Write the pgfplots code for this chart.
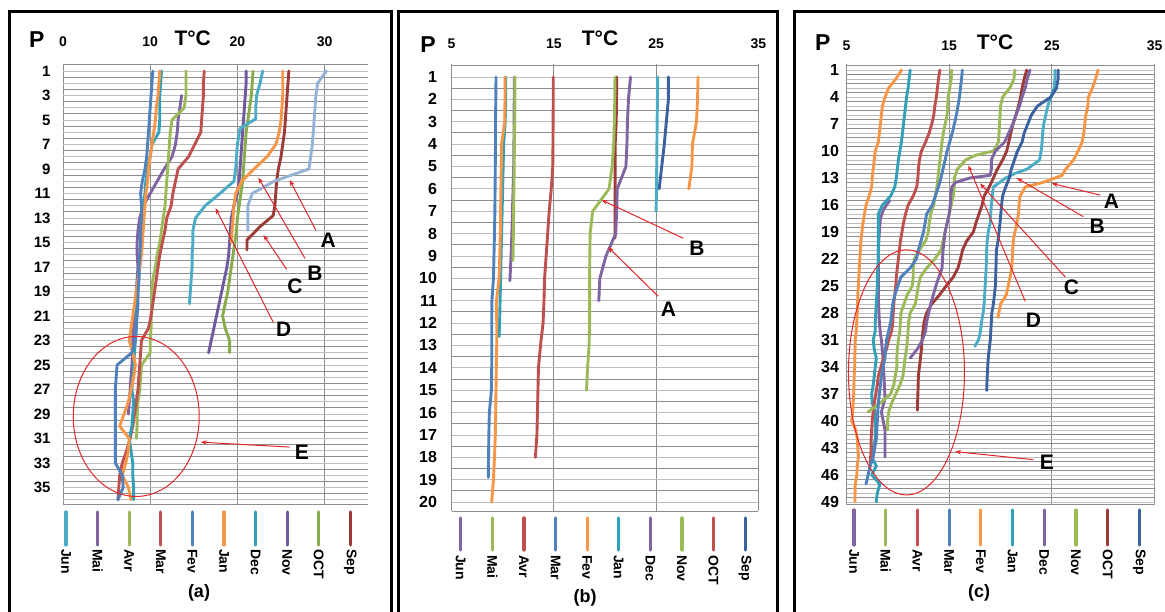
\documentclass[border=0pt]{standalone}
\usepackage{pgfplots}
\pgfplotsset{compat=1.18}
\usepackage{fontspec}
\setmainfont{Liberation Sans}
\usetikzlibrary{arrows.meta}

% series colours
\definecolor{cAqua}{HTML}{4BACC6}
\definecolor{cPurple}{HTML}{8064A2}
\definecolor{cGreen}{HTML}{9BBB59}
\definecolor{cRed}{HTML}{C0504D}
\definecolor{cBlue}{HTML}{4F81BD}
\definecolor{cOrange}{HTML}{F79646}
\definecolor{cTeal}{HTML}{31A0B8}
\definecolor{cDPurple}{HTML}{7159A0}
\definecolor{cDGreen}{HTML}{88AC4C}
\definecolor{cDRed}{HTML}{9E3B39}
\definecolor{cSteel}{HTML}{95B3D7}
\definecolor{cNavy}{HTML}{3A62A0}
\definecolor{gridA}{HTML}{8E8E8E}
\definecolor{gridB}{HTML}{BEBEBE}
\definecolor{annRed}{HTML}{E3262A}

\pgfplotsset{
  profile/.style={
    scale only axis, anchor=north west, y dir=reverse, clip=false,
    axis line style={draw=none}, tick style={draw=none},
    xticklabel pos=top,
    xmajorgrids, ymajorgrids=false, yminorgrids,
    major grid style={gridA, line width=0.9pt},
    minor grid style={gridB, line width=0.8pt},
    extra y tick style={grid=major},
    extra y tick labels={},
    /pgf/number format/assume math mode=true,
    xticklabel style={font=\bfseries\fontsize{14}{14}\selectfont, yshift=13pt},
  },
}
\tikzset{
  prof/.style={line width=2.9pt, line join=round, line cap=round},
  note/.style={annRed, line width=1pt, -{Stealth[length=6pt,width=4.5pt]}},
  lab/.style={font=\bfseries\fontsize{21}{21}\selectfont},
}

\begin{document}
\begin{tikzpicture}
\useasboundingbox (0pt,0pt) rectangle (1165pt,612pt);

% ---------------- panel (a) ----------------
\begin{axis}[profile, at={(63pt,548.35pt)}, width=305.2pt, height=441pt,
  xmin=0, xmax=35, ymin=0.4, ymax=36.4,
  xtick={0,10,20,30}, ytick={1,3,...,35}, minor ytick={1,...,36},
  extra y ticks={0.5,1.5,...,35.5,36.4},
  yticklabel style={font=\bfseries\fontsize{15}{15}\selectfont, xshift=-9pt}]
% Mai
\addplot[prof, cPurple] coordinates {(13.6,3)(13.4,4)(13.2,5)(13.1,6)(12.9,7)(12.5,8)(11.6,9)(10.8,10)(10.0,11)(9.2,12)(8.8,13)(8.6,14)(8.5,15)(8.5,16)(8.6,17)(8.5,18)(8.4,19)(8.3,20)(8.2,21)(8.1,22)(8.0,23)(8.0,24)(7.9,25)(7.8,26)(7.7,27)(7.6,28)(7.5,29)};
% Avr
\addplot[prof, cGreen] coordinates {(14.1,1)(14.1,2)(14.1,3)(13.9,4)(12.5,5)(12.3,6)(12.2,7)(12.1,8)(12.0,9)(11.9,10)(11.8,11)(11.7,12)(11.5,13)(11.3,14)(11.1,15)(10.8,16)(10.6,17)(10.3,18)(10.2,19)(10.2,20)(10.1,21)(10.1,22)(10.0,23)(10.0,24)(9.0,25)(8.9,26)(8.8,27)(8.6,28)(8.5,29)(8.5,30)(8.4,31)};
% Mar
\addplot[prof, cRed] coordinates {(16.2,1)(16.1,2)(16.1,3)(16.0,4)(15.9,5)(15.8,6)(15.1,7)(14.4,8)(13.2,9)(12.9,10)(12.6,11)(12.4,12)(11.9,13)(11.7,14)(11.4,15)(11.1,16)(10.9,17)(10.7,18)(10.5,19)(10.3,20)(10.1,21)(9.8,22)(9.0,23)(8.9,24)(8.8,25)(8.7,26)(8.6,27)(8.4,28)(8.2,29)(8.0,30)(7.7,31)(7.3,32)(6.8,33)(6.5,34)(6.4,35)(6.3,36)};
% Dec
\addplot[prof, cTeal] coordinates {(11.3,1)(11.2,2)(11.1,3)(11.1,4)(11.1,5)(11.0,6)(10.2,7)(10.0,8)(9.7,9)(9.5,10)(9.4,11)(9.2,12)(9.1,13)(9.1,14)(9.0,15)(8.9,16)(8.8,17)(8.7,18)(8.6,19)(8.5,20)(8.4,21)(8.4,22)(8.3,23)(8.2,24)(8.1,25)(8.0,26)(7.9,27)(8.1,28)(8.0,29)(7.9,30)(7.6,31)(7.8,32)(8.0,33)(8.0,34)(8.1,35)(8.1,36)};
% Jan
\addplot[prof, cOrange] coordinates {(11.1,1)(11.0,2)(10.9,3)(10.7,4)(10.6,5)(10.4,6)(10.2,7)(10.0,8)(9.8,9)(9.7,10)(9.5,11)(9.4,12)(9.3,13)(9.2,14)(9.1,15)(9.0,16)(8.8,17)(8.6,18)(8.4,19)(8.2,20)(8.0,21)(7.8,22)(7.6,23)(8.0,24)(8.3,25)(8.1,26)(7.8,27)(7.5,28)(7.0,29)(6.5,30)(7.6,31)(7.5,32)(7.2,33)(6.8,34)(7.5,35)(7.8,36)};
% Fev
\addplot[prof, cBlue] coordinates {(10.3,1)(10.2,2)(10.1,3)(10.0,4)(9.9,5)(9.8,6)(9.7,7)(9.6,8)(9.4,9)(9.1,10)(8.9,11)(9.0,12)(9.0,13)(8.9,14)(8.9,15)(8.8,16)(8.7,17)(8.7,18)(8.6,19)(8.6,20)(8.5,21)(8.4,22)(8.3,23)(7.9,24)(6.2,25)(6.1,26)(6.0,27)(6.0,28)(6.0,29)(6.0,30)(6.0,31)(6.0,32)(6.0,33)(6.8,34)(6.9,35)(6.3,36)};
% Nov
\addplot[prof, cDPurple] coordinates {(21.0,1)(21.0,2)(20.9,3)(20.8,4)(20.7,5)(20.6,6)(20.5,7)(20.4,8)(20.3,9)(20.2,10)(20.0,11)(19.6,12)(19.3,13)(19.2,14)(19.1,15)(19.0,16)(18.8,17)(18.5,18)(18.2,19)(17.9,20)(17.6,21)(17.3,22)(17.0,23)(16.7,24)};
% OCT
\addplot[prof, cDGreen] coordinates {(21.8,1)(21.7,2)(21.6,3)(21.4,4)(21.2,5)(21.0,6)(20.9,7)(20.8,8)(20.7,9)(20.6,10)(20.4,11)(20.2,12)(20.0,13)(19.9,14)(19.7,15)(19.5,16)(19.3,17)(19.1,18)(18.9,19)(18.6,20)(18.3,21)(18.6,22)(19.1,23)(19.1,24)};
% Jun
\addplot[prof, cAqua] coordinates {(22.9,1)(22.6,2)(22.2,3)(22.1,4)(22.1,4.9)(20.3,5.7)(20.0,7)(19.9,8)(19.8,9)(19.6,10)(18.0,11)(16.3,12)(15.2,13)(14.9,14)(14.9,15)(14.8,16)(14.8,17)(14.7,18)(14.6,19)(14.5,20)};
% B
\addplot[prof, cOrange] coordinates {(25.2,1)(25.2,2)(25.2,3)(25.1,4)(25.0,5)(24.8,6)(24.4,7)(23.4,8)(21.9,9)(20.5,10)(19.8,11)(19.6,12)(19.5,13)(19.4,14)(19.3,15)};
% Sep / C
\addplot[prof, cDRed] coordinates {(25.9,1)(25.8,2)(25.7,3)(25.6,4)(25.5,5)(25.4,6)(25.2,7)(25.0,8)(24.7,9)(24.5,10)(24.4,11)(24.3,12)(24.1,12.8)(22.6,13.7)(21.1,14.8)(21.1,15.6)};
% A
\addplot[prof, cSteel] coordinates {(30.2,1)(29.2,2)(29.0,3)(28.9,4)(28.8,5)(28.7,6)(28.6,7)(28.4,8)(28.2,9)(24.2,10)(21.7,11)(21.2,12)(21.2,13)(21.2,14)};
% annotations
\draw[annRed, line width=1pt] (axis cs:8.4,29.2) ellipse [x radius=63pt, y radius=80pt];
\draw[note] (axis cs:26.0,31.7) -- (axis cs:15.8,31.3);
\draw[note] (axis cs:24.1,21.5) -- (axis cs:17.5,12.2);
\draw[note] (axis cs:25.65,17.2) -- (axis cs:23.0,14.4);
\draw[note] (axis cs:27.75,16.3) -- (axis cs:22.4,9.7);
\draw[note] (axis cs:29.0,14.0) -- (axis cs:26.0,9.9);
\node[lab] at (axis cs:27.4,32.1) {E};
\node[lab] at (axis cs:25.3,22.1) {D};
\node[lab] at (axis cs:26.6,18.6) {C};
\node[lab] at (axis cs:28.9,17.5) {B};
\node[lab] at (axis cs:30.4,14.8) {A};
\end{axis}

% ---------------- panel (b) ----------------
\begin{axis}[profile, at={(451.5pt,548.4pt)}, width=306.9pt, height=447.4pt,
  xmin=5, xmax=35, ymin=0.4, ymax=20.4,
  xtick={5,15,25,35}, ytick={1,...,20}, minor ytick={1,...,20},
  extra y ticks={0.5,1.5,...,19.5,20.4},
  xticklabel style={yshift=-2pt},
  yticklabel style={font=\bfseries\fontsize{16}{16}\selectfont, xshift=-11pt}]
% Jun
\addplot[prof, cPurple] coordinates {(11.14,1)(11.13,2)(11.12,3)(11.1,4)(11.08,5)(11.02,6)(10.96,7)(10.9,8)(10.82,9)(10.72,10)(10.7,10.1)};
% Mai
\addplot[prof, cGreen] coordinates {(11.2,1)(11.2,2)(11.18,3)(11.15,4)(11.13,5)(11.1,6)(11.07,7)(11.05,8)(11.02,9)(11.0,9.2)};
% Avr
\addplot[prof, cRed] coordinates {(14.95,1)(14.95,2)(14.93,3)(14.92,4)(14.9,5)(14.75,6)(14.55,7)(14.4,8)(14.25,9)(14.1,10)(14.04,11)(13.95,12)(13.7,13)(13.5,14)(13.45,15)(13.4,16)(13.35,17)(13.2,18)};
% Jan
\addplot[prof, cTeal] coordinates {(10.3,1)(10.3,2)(10.25,3)(10.1,4)(10.05,5)(10.0,6)(9.95,7)(9.9,8)(9.85,9)(9.8,10)(9.75,11)(9.7,12)(9.65,12.6)};
% Mar
\addplot[prof, cBlue] coordinates {(9.35,1)(9.33,2)(9.3,3)(9.3,4)(9.28,5)(9.26,6)(9.24,7)(9.2,8)(9.15,9)(9.1,10)(8.95,11)(8.93,12)(8.93,13)(8.93,14)(8.9,15)(8.7,16)(8.65,17)(8.62,18)(8.6,18.9)};
% Fev
\addplot[prof, cOrange] coordinates {(10.23,1)(10.23,2)(10.2,3)(9.9,4)(9.87,5)(9.83,6)(9.8,7)(9.77,8)(9.72,9)(9.65,10)(9.4,11)(9.42,12)(9.42,13)(9.38,14)(9.35,15)(9.32,16)(9.28,17)(9.2,18)(9.1,19)(8.93,20)};
% OCT
\addplot[prof, cDRed] coordinates {(21.15,1)(21.13,2)(21.1,3)(21.0,4)(21.0,5)(21.0,6)(21.0,7)(21.0,8)(20.98,8.2)};
% Nov (B)
\addplot[prof, cGreen] coordinates {(20.98,1)(20.96,2)(20.92,3)(20.85,4)(20.7,5)(20.4,6)(18.8,7)(18.55,8)(18.52,9)(18.5,10)(18.5,11)(18.5,12)(18.45,13)(18.3,14)(18.2,15)};
% Dec (A)
\addplot[prof, cPurple] coordinates {(22.5,1)(22.3,2)(22.2,3)(22.15,4)(22.05,5)(21.2,6)(21.15,7)(21.05,8)(20.1,9)(19.5,10)(19.4,11)};
% warm months
\addplot[prof, cAqua] coordinates {(25.15,1)(25.13,2)(25.1,3)(25.08,4)(25.06,5)(25.04,6)(25.0,7)};
\addplot[prof, cNavy] coordinates {(26.2,1)(26.2,2)(26.0,3)(25.8,4)(25.55,5)(25.3,6)};
\addplot[prof, cOrange] coordinates {(29.1,1)(29.05,2)(28.95,3)(28.55,4)(28.5,5)(28.2,6)};
\draw[note] (axis cs:27.66,8.21) -- (axis cs:19.68,6.5);
\draw[note] (axis cs:25.2,10.8) -- (axis cs:20.3,8.6);
\node[lab] at (axis cs:29.0,8.66) {B};
\node[lab] at (axis cs:26.2,11.4) {A};
\end{axis}

% ---------------- panel (c) ----------------
\begin{axis}[profile, at={(846.5pt,548.3pt)}, width=308.1pt, height=441pt,
  xmin=5, xmax=35, ymin=0.3, ymax=49.3,
  xtick={5,15,25,35}, ytick={1,4,...,49}, minor ytick={1,...,49},
  extra y ticks={0.5,1.5,...,48.5,49.3},
  xticklabel style={yshift=-3pt},
  yticklabel style={font=\bfseries\fontsize{16}{16}\selectfont, xshift=-4pt}]
% Fev
\addplot[prof, cOrange] coordinates {(10.37,1)(9.8,2)(9.1,3)(8.75,4)(8.5,5)(8.4,6)(8.3,7)(8.2,8)(8.1,9)(7.8,10)(7.7,11)(7.6,12)(7.5,13)(7.45,14)(7.2,15)(6.9,16)(6.75,17)(6.6,18)(6.5,19)(6.4,20)(6.35,21)(6.3,22)(6.25,23)(6.2,24)(6.15,25)(6.1,26)(6.08,27)(6.05,28)(6.0,29)(5.95,30)(5.85,31)(5.83,32)(5.8,33)(5.8,34)(5.75,35)(5.72,36)(5.7,37)(5.65,38)(5.6,39)(5.5,40)(5.9,41)(6.05,42)(6.1,43)(6.15,44)(6.05,45)(6.0,46)(5.85,47)(5.83,48)(5.83,49)};
% Jun
\addplot[prof, cPurple] coordinates {(9.2,15.5)(8.6,16.5)(8.3,17.5)(8.2,19)(8.1,21)(8.1,24)(8.1,26.5)(8.2,29)(8.3,30.3)(8.4,31)(8.55,33)(8.65,35)(8.75,37.5)(8.4,39)(8.75,41)(8.75,42.5)(8.75,44)};
% Jan
\addplot[prof, cTeal] coordinates {(11.2,1)(11.1,2)(11.0,3)(10.85,4)(10.75,5)(10.65,6)(10.55,7)(10.45,8)(10.35,9)(10.2,10)(10.05,11)(9.95,12)(9.85,13)(9.7,14)(9.3,15)(8.5,16)(8.1,17)(8.1,18)(8.1,19)(8.1,20)(8.1,21)(8.1,22)(8.05,23)(8.0,24)(8.0,25)(7.95,26)(7.9,27)(7.85,28)(7.8,29)(7.8,30)(7.6,31)(7.7,32)(7.9,33)(7.8,34)(7.7,35)(7.6,36)(7.45,37)(7.5,38)(7.8,39)(7.8,40)(7.8,41)(7.8,42)(7.6,43)(7.45,44)(7.9,45)(7.45,46)(8.25,47)(8.0,48)(7.9,49)};
% Avr
\addplot[prof, cRed] coordinates {(14.1,1)(13.95,2)(13.85,3)(13.75,4)(13.6,5)(13.5,6)(13.3,7)(13.05,8)(12.7,9)(12.3,10)(12.1,11)(12.0,12)(11.95,13)(11.84,14)(11.5,15)(11.0,16)(10.75,17)(10.55,18)(10.4,19)(10.25,20)(10.15,21)(10.05,22)(9.95,23)(9.85,24)(9.8,25)(9.7,26)(9.6,27)(9.55,28)(9.5,29)(9.4,30)(9.1,31)(8.9,32)(8.6,33)(8.35,34)(8.1,35)(8.0,36)(7.85,37)(7.7,38)(7.6,39)(7.5,40)(7.45,41)(7.4,42)(7.4,43)(7.35,44)(7.3,45)};
% Mai
\addplot[prof, cGreen] coordinates {(15.24,1)(15.2,2)(15.05,3)(14.9,4)(14.85,5)(14.8,6)(14.6,7)(14.43,8)(14.3,9)(14.2,10)(14.1,11)(14.0,12)(13.9,13)(13.8,14)(13.65,15)(13.5,16)(13.2,17)(13.05,18)(12.97,19)(12.7,20)(12.1,21)(11.6,22)(11.5,23)(11.5,24)(11.4,25)(10.9,26)(10.6,27)(10.3,28)(10.25,29)(10.2,30)(10.05,31)(9.95,32)(9.9,33)(9.9,34)(9.75,35)(9.6,36)(9.3,37)(8.3,38)(7.1,39)};
% Mar
\addplot[prof, cBlue] coordinates {(16.28,1)(16.2,2)(16.1,3)(16.0,4)(15.85,5)(15.7,6)(15.5,7)(15.3,8)(15.05,9)(14.8,10)(14.6,11)(14.4,12)(14.2,13)(13.95,14)(13.65,15)(13.35,16)(12.8,17)(12.65,18)(12.5,19)(12.25,20)(12.0,21)(11.8,22)(11.2,23)(10.3,24)(10.0,25)(9.7,26)(9.5,27)(9.4,28)(9.3,29)(9.1,30)(8.9,31)(8.8,32)(8.75,33)(8.55,34)(8.4,35)(8.3,36)(8.2,37)(8.1,38)(8.05,39)(8.0,40)(7.95,41)(7.9,42)(7.75,43)(7.6,44)(7.3,45)(7.1,46)(6.9,47)};
% Nov (D)
\addplot[prof, cGreen] coordinates {(21.4,1)(21.3,2)(20.9,3)(20.2,4)(20.0,5)(19.95,6)(19.9,7)(19.85,8)(19.8,9)(19.3,10)(17.5,10.5)(16.6,11)(15.8,12)(15.5,13)(15.5,14)(15.4,15)(15.0,17)(14.6,19)(14.2,21)(13.6,22)(12.8,23)(12.2,24)(12.0,25)(11.85,26)(11.7,27)(11.2,28)(11.05,29)(11.0,30)(10.85,32)(10.7,33)(10.6,34)(10.5,35)(10.2,36)(9.8,37)(9.4,38)(9.1,39)(9.0,40)(9.0,41)};
% OCT
\addplot[prof, cDRed] coordinates {(22.55,1)(22.3,2)(22.1,3)(21.95,4)(21.75,5)(21.5,6)(21.2,7)(21.0,8)(20.8,9)(20.6,10)(20.2,11)(19.7,12)(19.3,13)(18.9,14)(18.4,15)(18.2,16)(17.9,17)(17.6,18)(17.35,19)(16.7,20)(16.3,21)(16.1,22)(15.85,23)(15.4,24)(14.7,25)(14.05,26)(13.3,27)(12.8,28)(12.55,29)(12.45,30)(12.35,31)(12.3,32)(12.2,33)(12.1,34)(12.0,35)(11.95,37)(11.9,38.8)};
% Dec (C)
\addplot[prof, cPurple] coordinates {(22.87,1)(22.6,2)(22.4,3)(22.1,4)(21.85,5)(21.5,6)(21.2,7)(20.8,8)(20.4,9)(19.5,10)(19.1,11)(19.1,12)(19.0,12.7)(17.0,13)(15.6,13.5)(15.25,14)(15.15,15)(15.1,16)(15.0,17)(14.8,18)(14.6,19)(14.5,20)(14.4,21)(14.35,22)(14.3,23)(14.0,24)(13.7,25)(13.45,26)(13.2,27)(13.0,28)(12.8,29)(12.7,30)(12.4,31)(11.9,32)(11.2,33)};
% Jan (B)
\addplot[prof, cAqua] coordinates {(25.3,1)(25.3,2)(25.2,3)(24.9,4)(24.6,5)(24.4,6)(24.2,7)(24.1,8)(24.05,9)(23.95,10)(23.8,11)(22.6,12)(21.4,12.5)(20.5,13)(19.3,14)(19.2,15)(19.1,16)(19.05,17)(19.0,18)(18.8,19)(18.7,20)(18.65,21)(18.6,23)(18.5,25)(18.4,27)(18.3,28)(18.15,29)(18.05,30)(17.85,31)(17.5,31.7)};
% Sep
\addplot[prof, cNavy] coordinates {(25.6,1)(25.6,2)(25.45,3)(24.9,4)(23.6,5)(23.0,6)(22.65,7)(22.3,8)(22.1,9)(21.65,10)(21.35,11)(21.05,12)(20.85,13)(20.5,14)(20.2,15)(20.1,16)(19.95,18)(19.75,20)(19.6,21)(19.55,23)(19.5,25)(19.3,27)(19.15,28)(19.05,30)(19.0,31)(18.8,33)(18.7,35)(18.65,36.6)};
% A
\addplot[prof, cOrange] coordinates {(29.5,1)(29.25,2)(28.95,3)(28.55,4)(28.5,5)(28.3,6)(28.2,7)(28.1,8)(27.95,9)(27.55,10)(27.1,11)(26.35,12)(26.0,12.7)(25.3,13)(24.1,13.5)(22.4,14)(21.9,15)(21.8,16)(21.75,17)(21.5,18.5)(21.3,19.5)(21.2,20.5)(21.1,23)(20.75,25)(20.55,26)(20.0,27)(19.75,28.5)};
% annotations
\draw[annRed, line width=1pt] (axis cs:10.84,34.6) ellipse [x radius=58pt, y radius=122.5pt];
\draw[note] (axis cs:23.2,44.3) -- (axis cs:15.56,43.4);
\draw[note] (axis cs:22.4,26.7) -- (axis cs:16.86,11.6);
\draw[note] (axis cs:26.3,24.0) -- (axis cs:18.0,13.6);
\draw[note] (axis cs:28.06,17.3) -- (axis cs:21.57,13.0);
\draw[note] (axis cs:29.7,14.9) -- (axis cs:24.98,13.6);
\node[lab] at (axis cs:24.5,44.6) {E};
\node[lab] at (axis cs:23.2,28.8) {D};
\node[lab] at (axis cs:26.9,25.1) {C};
\node[lab] at (axis cs:29.4,18.4) {B};
\node[lab] at (axis cs:30.8,15.6) {A};
\end{axis}

% frames, headings and legends
\begin{scope}[x=1pt,y=1pt]
\draw[line width=3pt] (9,600.5) rectangle (391,-5);
\draw[line width=3pt] (398,600.5) rectangle (777,-5);
\draw[line width=3pt] (794,600.5) rectangle (1170,-5);
\node[font=\bfseries\fontsize{23}{23}\selectfont] at (36.7,572) {P};
\node[font=\bfseries\fontsize{21}{21}\selectfont] at (192.7,574) {T°C};
\node[font=\bfseries\fontsize{23}{23}\selectfont] at (428,567) {P};
\node[font=\bfseries\fontsize{21}{21}\selectfont] at (600,574) {T°C};
\node[font=\bfseries\fontsize{23}{23}\selectfont] at (822.7,569) {P};
\node[font=\bfseries\fontsize{21}{21}\selectfont] at (995,570) {T°C};
\foreach \c/\t [count=\i from 0] in {cAqua/Jun,cPurple/Mai,cGreen/Avr,cRed/Mar,cBlue/Fev,cOrange/Jan,cTeal/Dec,cDPurple/Nov,cDGreen/OCT,cDRed/Sep}{
  \draw[\c, line width=3.2pt, line cap=round] (66+31.6*\i,100) -- (66+31.6*\i,67);
  \node[rotate=-90, anchor=west, inner sep=0pt, font=\bfseries\fontsize{14}{14}\selectfont] at (66+31.6*\i,63) {\t};
}
\foreach \c/\t [count=\i from 0] in {cPurple/Jun,cGreen/Mai,cRed/Avr,cBlue/Mar,cOrange/Fev,cTeal/Jan,cPurple/Dec,cGreen/Nov,cRed/OCT,cNavy/Sep}{
  \draw[\c, line width=3.2pt, line cap=round] (460.7+31.6*\i,94) -- (460.7+31.6*\i,62);
  \node[rotate=-90, anchor=west, inner sep=0pt, font=\bfseries\fontsize{14}{14}\selectfont] at (460.7+31.6*\i,57) {\t};
}
\foreach \c/\t [count=\i from 0] in {cPurple/Jun,cGreen/Mai,cRed/Avr,cBlue/Mar,cOrange/Fev,cTeal/Jan,cPurple/Dec,cGreen/Nov,cDRed/OCT,cNavy/Sep}{
  \draw[\c, line width=3.2pt, line cap=round] (854+31.7*\i,102) -- (854+31.7*\i,67);
  \node[rotate=-90, anchor=west, inner sep=0pt, font=\bfseries\fontsize{14}{14}\selectfont] at (854+31.7*\i,63) {\t};
}
\node[font=\bfseries\fontsize{18}{18}\selectfont] at (199,19) {(a)};
\node[font=\bfseries\fontsize{18}{18}\selectfont] at (585,14) {(b)};
\node[font=\bfseries\fontsize{18}{18}\selectfont] at (979,19) {(c)};
\end{scope}
\end{tikzpicture}
\end{document}
